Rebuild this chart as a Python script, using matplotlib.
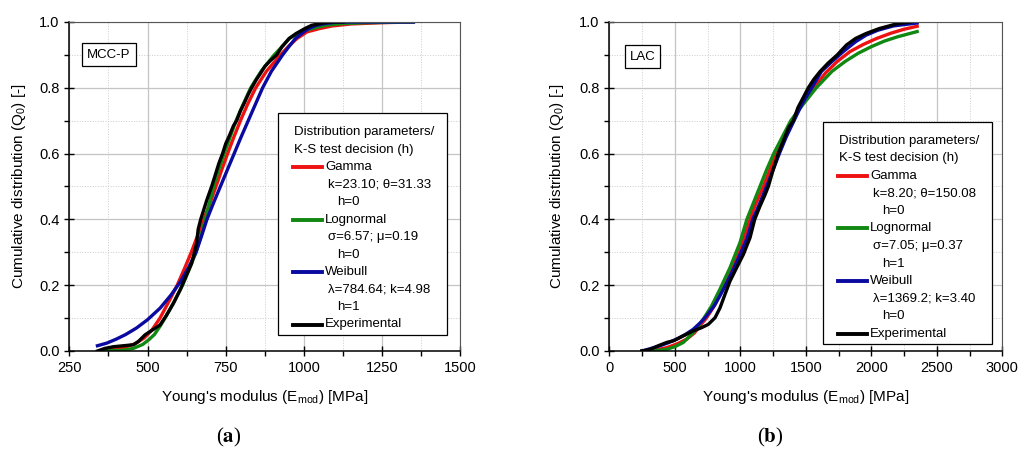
import matplotlib
matplotlib.use('Agg')
import matplotlib.pyplot as plt
from matplotlib.ticker import MultipleLocator
from matplotlib.lines import Line2D
from matplotlib.patches import Rectangle

plt.rcParams['font.family'] = ['Liberation Sans', 'DejaVu Sans']
plt.rcParams['mathtext.fontset'] = 'custom'
plt.rcParams['mathtext.rm'] = 'Liberation Sans'
plt.rcParams['mathtext.it'] = 'Liberation Sans:italic'
plt.rcParams['mathtext.bf'] = 'Liberation Sans:bold'

# ---- (a) MCC-P : values ----
gamma_a_E = [350, 400, 430, 460, 490, 515, 540, 568, 595, 618, 640, 660, 680, 700, 719, 737, 756, 776, 797, 820,
             846, 880, 925, 955, 978, 1010, 1050, 1090, 1150, 1250, 1350]
gamma_a_Q = [0.0, 0.006, 0.012, 0.022, 0.04, 0.065, 0.10, 0.15, 0.20, 0.25, 0.30, 0.35, 0.40, 0.45, 0.50, 0.55, 0.60,
             0.65, 0.70, 0.75, 0.80, 0.85, 0.90, 0.93, 0.95, 0.97, 0.98, 0.988, 0.994, 0.998, 1.0]
logn_a_E = [350, 420, 455, 485, 505, 522, 540, 556, 585, 612, 634, 655, 671, 685, 698, 711, 727, 745, 764, 783,
            806, 830, 863, 905, 935, 953, 990, 1025, 1070, 1120, 1200, 1350]
logn_a_Q = [0.0, 0.002, 0.008, 0.02, 0.035, 0.05, 0.075, 0.10, 0.15, 0.20, 0.25, 0.30, 0.35, 0.40, 0.45, 0.50, 0.55,
            0.60, 0.65, 0.70, 0.75, 0.80, 0.85, 0.90, 0.93, 0.95, 0.97, 0.98, 0.99, 0.995, 0.998, 1.0]
weib_a_E = [340, 370, 400, 430, 465, 500, 540, 575, 605, 632, 655, 673, 690, 711, 733, 755, 777, 799, 822, 845,
            868, 896, 932, 952, 973, 1000, 1015, 1040, 1065, 1100, 1150, 1250, 1350]
weib_a_Q = [0.016, 0.024, 0.036, 0.05, 0.07, 0.095, 0.13, 0.17, 0.21, 0.255, 0.30, 0.35, 0.40, 0.45, 0.50, 0.55,
            0.60, 0.65, 0.70, 0.75, 0.80, 0.85, 0.90, 0.925, 0.95, 0.97, 0.98, 0.99, 0.995, 0.999, 1.0, 1.0, 1.0]
exp_a_E = [340, 364, 391, 423, 455, 471, 492, 508, 524, 540, 561, 583, 604, 625, 641, 650, 657, 662, 670, 680,
           690, 705, 715, 728, 740, 750, 762, 775, 785, 797, 810, 822, 833, 848, 862, 875, 890, 913, 930, 953,
           975, 1003, 1025, 1051, 1075, 1100, 1125]
exp_a_Q = [0.0, 0.008, 0.013, 0.016, 0.019, 0.029, 0.049, 0.059, 0.069, 0.079, 0.109, 0.145, 0.185, 0.231, 0.266,
           0.30, 0.327, 0.37, 0.40, 0.43, 0.46, 0.50, 0.53, 0.57, 0.60, 0.63, 0.655, 0.685, 0.70, 0.73, 0.755, 0.78,
           0.80, 0.825, 0.845, 0.865, 0.88, 0.90, 0.925, 0.95, 0.965, 0.98, 0.99, 0.995, 0.999, 1.0, 1.0]

# ---- (b) LAC ----
gamma_b_E = [250, 350, 438, 520, 591, 650, 692, 735, 769, 810, 845, 900, 947, 1000, 1049, 1100, 1176, 1225, 1273, 1330,
             1392, 1470, 1563, 1650, 1740, 1837, 1940, 2041, 2150, 2250, 2350]
gamma_b_Q = [0.0, 0.003, 0.01, 0.022, 0.036, 0.055, 0.077, 0.097, 0.117, 0.143, 0.173, 0.215, 0.258, 0.31, 0.37, 0.43,
             0.50, 0.55, 0.60, 0.65, 0.70, 0.75, 0.80, 0.845, 0.88, 0.91, 0.932, 0.95, 0.966, 0.978, 0.987]
logn_b_E = [250, 350, 438, 500, 565, 641, 718, 781, 845, 921, 998, 1050, 1100, 1150, 1200, 1255, 1320, 1385, 1480, 1580,
            1700, 1800, 1900, 2000, 2100, 2200, 2350]
logn_b_Q = [0.0, 0.001, 0.005, 0.013, 0.026, 0.056, 0.097, 0.137, 0.188, 0.253, 0.33, 0.40, 0.45, 0.50, 0.55, 0.60,
            0.65, 0.70, 0.75, 0.80, 0.85, 0.88, 0.905, 0.925, 0.942, 0.955, 0.971]
weib_b_E = [250, 320, 387, 450, 514, 580, 641, 700, 743, 800, 845, 900, 947, 1000, 1049, 1095, 1150, 1200, 1250, 1298,
            1350, 1410, 1470, 1545, 1620, 1700, 1786, 1880, 1960, 2050, 2168, 2350]
weib_b_Q = [0.0, 0.008, 0.016, 0.025, 0.036, 0.05, 0.066, 0.088, 0.107, 0.137, 0.168, 0.21, 0.248, 0.295, 0.34, 0.40,
            0.45, 0.50, 0.55, 0.60, 0.65, 0.70, 0.75, 0.80, 0.85, 0.88, 0.91, 0.94, 0.96, 0.975, 0.988, 0.997]
exp_b_E = [250, 311, 374, 438, 489, 565, 641, 705, 756, 807, 845, 883, 921, 972, 1023, 1074, 1110, 1150, 1189, 1214,
           1250, 1290, 1330, 1370, 1405, 1440, 1480, 1519, 1560, 1610, 1670, 1740, 1810, 1880, 1960, 2060, 2200, 2300]
exp_b_Q = [0.0, 0.005, 0.016, 0.026, 0.031, 0.046, 0.061, 0.071, 0.081, 0.101, 0.131, 0.172, 0.212, 0.253, 0.293,
           0.344, 0.40, 0.44, 0.475, 0.50, 0.55, 0.60, 0.64, 0.68, 0.70, 0.74, 0.77, 0.80, 0.825, 0.85, 0.875, 0.90,
           0.93, 0.95, 0.965, 0.98, 0.995, 1.0]

legend_a = [('Gamma', 'k=23.10; \u03b8=31.33', 'h=0'),
            ('Lognormal', '\u03c3=6.57; \u03bc=0.19', 'h=0'),
            ('Weibull', '\u03bb=784.64; k=4.98', 'h=1')]
legend_b = [('Gamma', 'k=8.20; \u03b8=150.08', 'h=0'),
            ('Lognormal', '\u03c3=7.05; \u03bc=0.37', 'h=1'),
            ('Weibull', '\u03bb=1369.2; k=3.40', 'h=0')]

RED = '#ee1111'
GREEN = '#118811'
BLUE = '#0a0aa0'
BLACK = '#000000'

W, H = 1021, 451
fig = plt.figure(figsize=(W / 100, H / 100), dpi=100)


def fx(x):
    return x / W


def fy(y):
    return 1 - y / H


def make_axes(left, right, xmax, major, minor, xmin):
    ax = fig.add_axes([fx(left), fy(351), (right - left) / W, (351 - 22) / H])
    ax.set_xlim(xmin, xmax)
    ax.set_ylim(0, 1.0)
    ax.xaxis.set_major_locator(MultipleLocator(major))
    ax.xaxis.set_minor_locator(MultipleLocator(minor))
    ax.yaxis.set_major_locator(MultipleLocator(0.2))
    ax.yaxis.set_minor_locator(MultipleLocator(0.1))
    ax.yaxis.set_major_formatter(plt.FuncFormatter(lambda v, p: '%.1f' % v))
    ax.grid(which='major', color='#c4c4c4', lw=0.9, ls='-')
    ax.grid(which='minor', color='#cccccc', lw=0.7, ls=':')
    ax.set_axisbelow(True)
    ax.tick_params(which='major', direction='inout', length=7, width=1, labelsize=10.5, colors='black', top=False, right=False)
    ax.tick_params(which='minor', direction='out', length=3.5, width=1, top=False, right=False)
    for s in ['left', 'bottom']:
        ax.spines[s].set_linewidth(1.1)
    for s in ['top', 'right']:
        ax.spines[s].set_color('#555555')
        ax.spines[s].set_linewidth(0.8)
    return ax


def draw_legend(ax, x0, y0, x1, y1, rows, step):
    ax.add_artist(Rectangle((fx(x0), fy(y1)), (x1 - x0) / W, (y1 - y0) / H, transform=fig.transFigure,
                            facecolor='white', edgecolor='black', lw=0.9, zorder=10))
    fs = 9.5
    y = y0 + 19
    fig.text(fx(x0 + 16), fy(y), 'Distribution parameters/', fontsize=fs, va='center', zorder=11)
    y += step
    fig.text(fx(x0 + 16), fy(y), 'K-S test decision (h)', fontsize=fs, va='center', zorder=11)
    cols = [RED, GREEN, BLUE]
    for (name, par, h), c in zip(rows, cols):
        y += step
        fig.add_artist(Line2D([fx(x0 + 15), fx(x0 + 44)], [fy(y), fy(y)], color=c, lw=2.8, zorder=11))
        fig.text(fx(x0 + 47), fy(y), name, fontsize=fs, va='center', zorder=11)
        y += step
        fig.text(fx(x0 + 50), fy(y), par, fontsize=fs, va='center', zorder=11)
        y += step
        fig.text(fx(x0 + 59), fy(y), h, fontsize=fs, va='center', zorder=11)
    y += step
    fig.add_artist(Line2D([fx(x0 + 15), fx(x0 + 44)], [fy(y), fy(y)], color=BLACK, lw=2.8, zorder=11))
    fig.text(fx(x0 + 47), fy(y), 'Experimental', fontsize=fs, va='center', zorder=11)


lw = 2.4
# panel (a)
ax1 = make_axes(69.3, 460.3, 1500, 250, 125, 250)
ax1.plot(gamma_a_E, gamma_a_Q, color=RED, lw=lw)
ax1.plot(logn_a_E, logn_a_Q, color=GREEN, lw=lw)
ax1.plot(weib_a_E, weib_a_Q, color=BLUE, lw=lw)
ax1.plot(exp_a_E, exp_a_Q, color=BLACK, lw=lw)
draw_legend(ax1, 278, 113, 447, 335, legend_a, 17.5)
fig.text(fx(109), fy(54.5), 'MCC-P', fontsize=9.5, ha='center', va='center',
         bbox=dict(boxstyle='square,pad=0.38', fc='white', ec='black', lw=0.9))

# panel (b)
ax2 = make_axes(609.3, 1002.3, 3000, 500, 250, 0)
ax2.plot(gamma_b_E, gamma_b_Q, color=RED, lw=lw)
ax2.plot(logn_b_E, logn_b_Q, color=GREEN, lw=lw)
ax2.plot(weib_b_E, weib_b_Q, color=BLUE, lw=lw)
ax2.plot(exp_b_E, exp_b_Q, color=BLACK, lw=lw)
draw_legend(ax2, 823.3, 121.7, 991.7, 344, legend_b, 17.55)
fig.text(fx(642.5), fy(56.5), 'LAC', fontsize=9.5, ha='center', va='center',
         bbox=dict(boxstyle='square,pad=0.38', fc='white', ec='black', lw=0.9))

# axis titles
ylab = 'Cumulative distribution (Q$_0$) [-]'
xlab = "Young's modulus (E$_{\\mathrm{mod}}$) [MPa]"
fig.text(fx(19), fy(186), ylab, fontsize=11, rotation=90, ha='center', va='center')
fig.text(fx(557), fy(186), ylab, fontsize=11, rotation=90, ha='center', va='center')
fig.text(fx(265), fy(397), xlab, fontsize=11, ha='center', va='center')
fig.text(fx(806), fy(397), xlab, fontsize=11, ha='center', va='center')

fig.text(fx(229), fy(437), r'($\mathbf{a}$)', fontsize=15, ha='center', va='center',
         family='Liberation Serif', math_fontfamily='stix')
fig.text(fx(770), fy(437), r'($\mathbf{b}$)', fontsize=15, ha='center', va='center',
         family='Liberation Serif', math_fontfamily='stix')

fig.savefig('out.png', dpi=100)
